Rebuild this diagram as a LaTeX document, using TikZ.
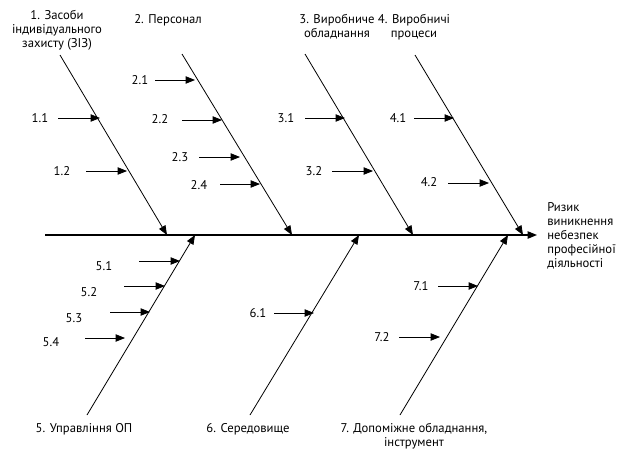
\documentclass[tikz,border=0pt]{standalone}
\usepackage{fontspec}
\setmainfont{PT Sans}
\usetikzlibrary{arrows.meta}
\begin{document}
\begin{tikzpicture}[x=0.75pt,y=-0.75pt,
  bone/.style={line width=0.6pt,-{Triangle[length=7pt,width=5.5pt]}},
  txt/.style={font=\fontsize{9.5}{10.5}\selectfont,inner sep=0pt,align=center}]
  \useasboundingbox (0,0) rectangle (623,450);
  % spine
  \coordinate (tail) at (45,235);
  \coordinate (head) at (537,235);
  \draw[bone,line width=0.9pt] (tail) -- (head);
  \node[txt,anchor=west,align=left] (risk) at (547,236) {Ризик\\виникнення\\небезпек\\професійної\\діяльності};
  % causes
  \node[txt] (c1) at (57,30) {1. Засоби\\індивідуального\\захисту (ЗІЗ)};
  \node[txt] (c2) at (168,20) {2. Персонал};
  \node[txt] (c3) at (337,27) {3. Виробниче\\обладнання};
  \node[txt] (c4) at (414,27) {4. Виробничі\\процеси};
  \node[txt] (c5) at (84,429) {5. Управління ОП};
  \node[txt] (c6) at (248,429) {6. Середовище};
  \node[txt] (c7) at (414,436) {7. Допоміжне обладнання,\\інструмент};
  \foreach \i/\sx/\sy/\ex/\ey in {1/60/55/167/235, 2/182/54/292/235, 3/305/54/413/235, 4/415/55/523/235,
    5/87/415/195/235, 6/250/415/359/235, 7/400/415/508/235} {
    \coordinate (b\i s) at (\sx,\sy);
    \coordinate (b\i e) at (\ex,\ey);
    \draw[bone] (b\i s) -- (b\i e);
  }
  % sub-causes
  \foreach \i/\t/\lx/\ly/\sx/\tx/\y in {11/1.1/40/118/58/100/118, 12/1.2/62/171/86/127/171,
    21/2.1/140/80/155/195/80, 22/2.2/160/119/182/222/120, 23/2.3/180/157/199/240/157, 24/2.4/199/185/220/260/184,
    31/3.1/286/118/305/345/118, 32/3.2/314/171/332/373/171,
    41/4.1/398/118/414/454/118, 42/4.2/429/182/448/489/183,
    51/5.1/104/266/139/180/261, 52/5.2/89/292/124/165/286, 53/5.3/74/318/110/150/312, 54/5.4/51/342/85/125/338,
    61/6.1/258/313/274/314/313,
    71/7.1/421/286/438/478/286, 72/7.2/382/337/399/440/337} {
    \node[txt] (l\i) at (\lx,\ly) {\t};
    \coordinate (s\i) at (\sx,\y);
    \coordinate (t\i) at (\tx,\y);
    \draw[bone] (s\i) -- (t\i);
  }
\end{tikzpicture}
\end{document}
